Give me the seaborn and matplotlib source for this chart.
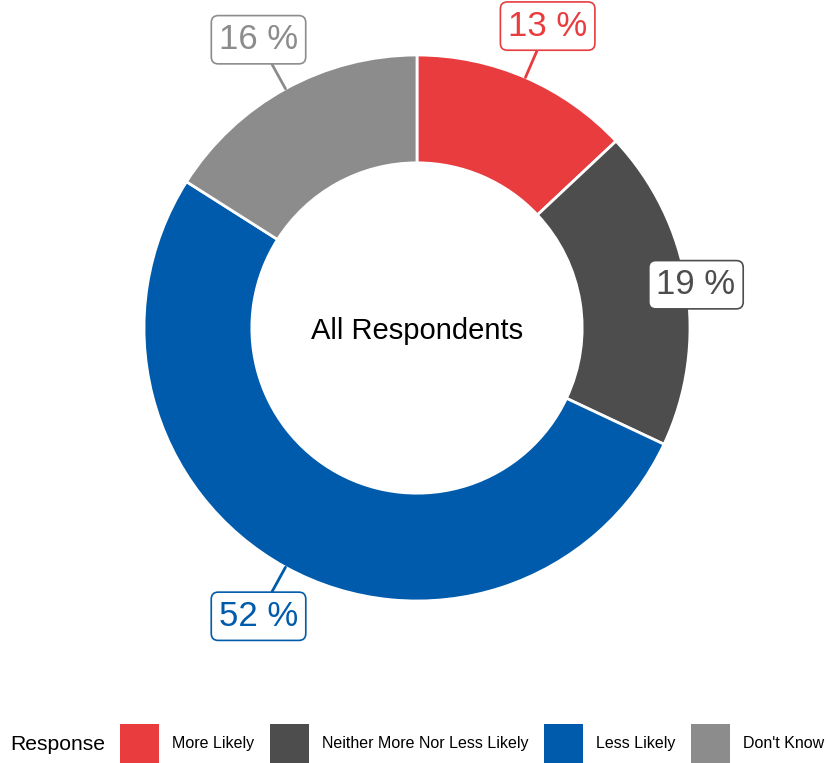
import matplotlib
matplotlib.use("Agg")
import matplotlib.pyplot as plt
from matplotlib.patches import Patch
import numpy as np
import seaborn as sns

# Data
responses = ["More Likely", "Neither More Nor Less Likely", "Less Likely", "Don't Know"]
shares = [13, 19, 52, 16]
palette = ["#E83C3F", "#4D4D4D", "#005BAC", "#8C8C8C"]
center_label = "All Respondents"
legend_title = "Response"

sns.set_theme(style="white")
plt.rcParams["font.family"] = ["Liberation Sans", "DejaVu Sans"]
plt.rcParams["text.color"] = "black"

W, H = 826, 763
fig = plt.figure(figsize=(W / 100, H / 100), dpi=100)

# donut centre (px) and outer radius (px) -> axes in units of the outer radius
cx, cy, R = 417, 328, 273
ax_bottom_px = 700
ax = fig.add_axes([0, (H - ax_bottom_px) / H, 1, ax_bottom_px / H])

wedges, _ = ax.pie(
    shares,
    colors=palette,
    startangle=90,
    counterclock=False,
    radius=1.0,
    wedgeprops=dict(width=0.395, edgecolor="white", linewidth=2),
)
ax.set_xlim(-cx / R, (W - cx) / R)
ax.set_ylim(-(ax_bottom_px - cy) / R, cy / R)
ax.set_aspect("auto")
ax.axis("off")

ax.text(0, -0.01, center_label, ha="center", va="center", fontsize=21, color="black")

# labels placed radially outside the ring, kept inside the panel
cum = np.cumsum([0] + shares[:-1])
for share, start, col in zip(shares, cum, palette):
    mid = np.deg2rad((start + share / 2) / sum(shares) * 360)
    ex, ey = np.sin(mid), np.cos(mid)
    lx, ly = 1.205 * ex, 1.205 * ey
    if lx > 1.022:
        lx, ly = 1.022, ly - 0.03
    ax.annotate(
        f"{share} %",
        xy=(ex, ey),
        xytext=(lx, ly),
        ha="center",
        va="center",
        fontsize=25,
        color=col,
        bbox=dict(boxstyle="round,pad=0.22,rounding_size=0.2", fc="white", ec=col, lw=1.2),
        arrowprops=dict(arrowstyle="-", color=col, lw=2, shrinkA=0, shrinkB=0),
        zorder=5,
    )

# legend along the bottom
handles = [Patch(facecolor=c, edgecolor="none", label=r) for c, r in zip(palette, responses)]
fig.text(10 / W, (H - 745) / H, legend_title, ha="left", va="center", fontsize=15.2, color="black")
leg = fig.legend(
    handles=handles,
    loc="center left",
    bbox_to_anchor=(120 / W, (H - 743.5) / H),
    ncol=4,
    frameon=False,
    fontsize=11.5,
    handlelength=2.44,
    handleheight=3.37,
    handletextpad=0.8,
    columnspacing=1.0,
    borderpad=0,
    borderaxespad=0,
)
for t in leg.get_texts():
    t.set_color("black")

fig.savefig("out.png", dpi=100)
